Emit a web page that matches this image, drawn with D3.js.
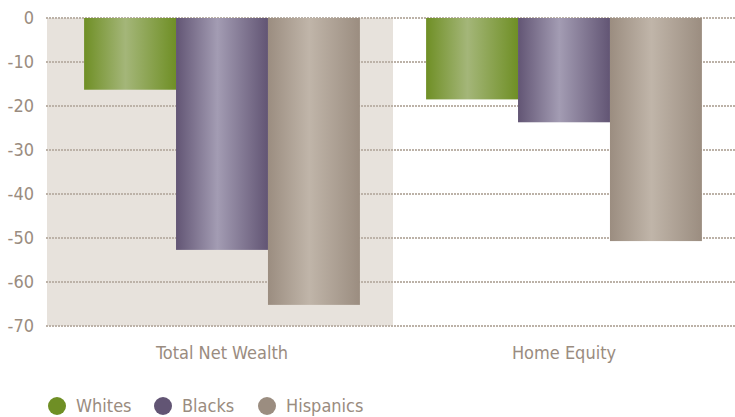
<!DOCTYPE html>
<html>
<head>
<meta charset="utf-8">
<script src="https://cdn.jsdelivr.net/npm/d3@7"></script>
<style>
  html, body { margin: 0; padding: 0; background: #ffffff; }
  svg { display: block; }
  text { font-family: "DejaVu Sans Condensed", "DejaVu Sans", sans-serif; font-stretch: condensed; fill: #9a8c80; }
</style>
</head>
<body>
<svg id="chart" width="735" height="417"></svg>
<script>
const categories = ["Total Net Wealth", "Home Equity"];
const seriesNames = ["Whites", "Blacks", "Hispanics"];
const whites = [-16.3, -18.5];
const blacks = [-52.7, -23.7];
const hispanics = [-65.2, -50.7];
const yTicks = [0, -10, -20, -30, -40, -50, -60, -70];
const seriesColors = ["#6f8f25", "#625574", "#9b8d80"];
const seriesLight = ["#a4b679", "#a39cb3", "#c0b5a9"];

const seriesValues = [whites, blacks, hispanics];

const svg = d3.select("#chart");
const W = 735;
const plotLeft = 46;

const y = d3.scaleLinear().domain([0, -70]).range([18, 326]);
const x = d3.scaleBand().domain(categories).range([51, 735]).padding(0);
const xs = d3.scaleBand().domain(seriesNames).range([0, x.bandwidth()])
  .paddingInner(0).paddingOuter(0.36);

// gradients
const defs = svg.append("defs");
seriesNames.forEach((s, i) => {
  const g = defs.append("linearGradient").attr("id", "grad" + i)
    .attr("x1", "0%").attr("x2", "100%").attr("y1", "0%").attr("y2", "0%");
  g.append("stop").attr("offset", "0%").attr("stop-color", seriesColors[i]);
  g.append("stop").attr("offset", "45%").attr("stop-color", seriesLight[i]);
  g.append("stop").attr("offset", "100%").attr("stop-color", seriesColors[i]);
});

// shaded band for first category
svg.append("rect")
  .attr("x", plotLeft + 1)
  .attr("y", y(0))
  .attr("width", x(categories[0]) + x.bandwidth() - plotLeft - 1)
  .attr("height", y(-70) - y(0))
  .attr("fill", "#e7e2dc");

// gridlines
svg.append("g").selectAll("line").data(yTicks).join("line")
  .attr("x1", plotLeft).attr("x2", W)
  .attr("y1", d => y(d)).attr("y2", d => y(d))
  .attr("stroke", "#bcb2a8")
  .attr("stroke-width", 2)
  .attr("stroke-dasharray", "2,1");

// y tick labels
svg.append("g").selectAll("text").data(yTicks).join("text")
  .attr("x", 34).attr("y", d => y(d))
  .attr("dy", "0.36em")
  .attr("text-anchor", "end")
  .attr("font-size", 18)
  .text(d => d);

// bars
const groups = svg.append("g").selectAll("g").data(categories).join("g")
  .attr("transform", c => `translate(${x(c)},0)`);
groups.selectAll("rect")
  .data((c, ci) => seriesNames.map((s, si) => ({ s, si, v: seriesValues[si][ci] })))
  .join("rect")
  .attr("x", d => xs(d.s))
  .attr("width", xs.bandwidth())
  .attr("y", y(0))
  .attr("height", d => y(d.v) - y(0))
  .attr("fill", d => `url(#grad${d.si})`);

// category labels
svg.append("g").selectAll("text").data(categories).join("text")
  .attr("x", c => x(c) + x.bandwidth() / 2)
  .attr("y", 359)
  .attr("text-anchor", "middle")
  .attr("font-size", 18)
  .text(c => c);

// legend
const legendX = [57, 163, 267];
const leg = svg.append("g").selectAll("g").data(seriesNames).join("g")
  .attr("transform", (d, i) => `translate(${legendX[i]},406)`);
leg.append("circle").attr("r", 9).attr("fill", (d, i) => seriesColors[i]);
leg.append("text").attr("x", 19).attr("y", 0).attr("dy", "0.36em")
  .attr("font-size", 18).text(d => d);
</script>
</body>
</html>
